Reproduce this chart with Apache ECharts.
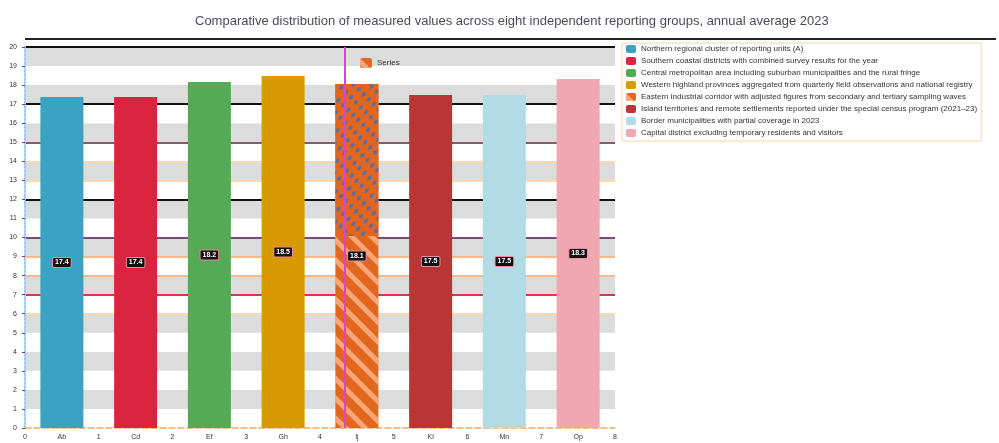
<!DOCTYPE html>
<html>
<head>
<meta charset="utf-8">
<script src="https://cdn.jsdelivr.net/npm/echarts@6/dist/echarts.min.js"></script>
<style>html,body{margin:0;padding:0;background:#fff;}#c{width:999px;height:443px;}</style>
</head>
<body>
<div id="c"></div>
<script>
const titleText = "Comparative distribution of measured values across eight independent reporting groups, annual average 2023";
const categories = ["Ab", "Cd", "Ef", "Gh", "Ij", "Kl", "Mn", "Op"];
const boundaryLabels = ["0", "1", "2", "3", "4", "5", "6", "7", "8"];
const seriesNames = [
  "Northern regional cluster of reporting units (A)",
  "Southern coastal districts with combined survey results for the year",
  "Central metropolitan area including suburban municipalities and the rural fringe",
  "Western highland provinces aggregated from quarterly field observations and national registry",
  "Eastern industrial corridor with adjusted figures from secondary and tertiary sampling waves",
  "Island territories and remote settlements reported under the special census program (2021–23)",
  "Border municipalities with partial coverage in 2023",
  "Capital district excluding temporary residents and visitors"
];
const values = [17.38, 17.38, 18.16, 18.48, 18.06, 17.48, 17.48, 18.32];
const overlayBase = [10.08];
const overlayTop = [7.98];
const colors = ["#3aa2c2", "#d9253f", "#55ab55", "#d89a00", "#e3661f", "#b83636", "#b3dbe5", "#f0a7b0"];
const yTicks = [0, 20, 1];
const markX = 4.34;

const splitColors = ["rgba(0,0,0,0)","rgba(0,0,0,0)","rgba(0,0,0,0)","rgba(0,0,0,0)","rgba(0,0,0,0)","rgba(0,0,0,0)",
  "#fcd8b0","#e0344a","#f7b98a","#f7b98a","#7a4a7a","rgba(0,0,0,0)","#111","#fcd8b0","#fcd8b0","#8a5a6a",
  "rgba(0,0,0,0)","#111","rgba(0,0,0,0)","rgba(0,0,0,0)","#111"];

const series = seriesNames.map((n, i) => ({
  name: n,
  type: 'bar',
  stack: 'total',
  xAxisIndex: 0,
  barWidth: 43,
  barGap: '-100%',
  data: categories.map((c, j) => j === i ? values[i] : '-'),
  itemStyle: Object.assign({ color: colors[i] }, i === 4 ? {
    decal: { symbol: 'rect', color: 'rgba(255,190,150,0.75)', dashArrayX: [1, 0], dashArrayY: [5, 9], rotation: Math.PI / 4 }
  } : {}),
  label: {
    show: true, position: 'inside', color: '#fff', fontSize: 7, fontWeight: 'bold',
    backgroundColor: '#111', borderColor: '#f08aa0', borderWidth: 1, borderRadius: 1, padding: [1, 2],
    formatter: p => p.value.toFixed(1)
  },
  z: 2
}));
series.push({
  name: 'base', type: 'bar', stack: 'ov', xAxisIndex: 0, barWidth: 43, barGap: '-100%', silent: true,
  data: categories.map((c, j) => j === 4 ? overlayBase[0] : '-'),
  itemStyle: { color: 'rgba(0,0,0,0)' }, z: 3
});
series.push({
  name: 'pattern', type: 'bar', stack: 'ov', xAxisIndex: 0, barWidth: 43, barGap: '-100%', silent: true,
  data: categories.map((c, j) => j === 4 ? overlayTop[0] : '-'),
  itemStyle: { color: '#e3661f', decal: { symbol: 'diamond', color: 'rgba(60,110,190,0.85)', symbolSize: 1, dashArrayX: [[7, 4]], dashArrayY: [4, 3], rotation: -Math.PI / 4 } },
  z: 3
});
series.push({
  name: 'marker', type: 'line', xAxisIndex: 1, data: [], silent: true,
  markLine: { symbol: 'none', silent: true, label: { show: false },
    lineStyle: { color: '#e040d8', width: 2, type: 'solid' }, data: [{ xAxis: markX }] }
});

const chart = echarts.init(document.getElementById('c'));
chart.setOption({
  animation: false,
  title: { text: titleText, left: 190, top: 10, textStyle: { fontSize: 13, fontWeight: 'normal', color: '#4a4a5a' } },
  graphic: [{ type: 'line', shape: { x1: 25, y1: 39, x2: 996, y2: 39 }, style: { stroke: '#222', lineWidth: 2 }, silent: true }],
  legend: [{
    orient: 'vertical', left: 622, top: 43, width: 374, itemWidth: 10, itemHeight: 8, itemGap: 4,
    padding: [2, 4, 4, 4], borderColor: '#f8d4b0', borderWidth: 1,
    data: seriesNames, textStyle: { fontSize: 8, color: '#333' }
  }, {
    left: 355, top: 53, itemWidth: 12, itemHeight: 10, data: [seriesNames[4]],
    formatter: () => 'Series', textStyle: { fontSize: 8, color: '#333' }, selectedMode: false
  }],
  grid: { left: 25, right: 384, top: 47, bottom: 15, containLabel: false },
  xAxis: [{
    type: 'category', data: categories, boundaryGap: true,
    axisLine: { lineStyle: { color: '#f5a860', type: 'dashed', width: 1.5 } },
    axisTick: { show: false },
    axisLabel: { fontSize: 7, color: '#333', margin: 6 }
  }, {
    type: 'value', position: 'bottom', min: 0, max: 8, interval: 1,
    axisLine: { show: false }, axisTick: { show: false }, splitLine: { show: false },
    axisLabel: { fontSize: 7, color: '#333', margin: 6, formatter: v => boundaryLabels[v] }
  }],
  yAxis: {
    type: 'value', min: yTicks[0], max: yTicks[1], interval: yTicks[2],
    axisLine: { show: true, lineStyle: { color: '#8fd0f0', type: 'dotted', width: 2 } },
    axisTick: { show: true, length: 3, lineStyle: { color: '#7a3a7a' } },
    axisLabel: { fontSize: 7, color: '#333', margin: 8 },
    splitLine: { show: true, lineStyle: { color: splitColors, width: 2 } },
    splitArea: { show: true, areaStyle: { color: ['#ffffff', '#dcdcdc'] } }
  },
  series: series
});
</script>
</body>
</html>
